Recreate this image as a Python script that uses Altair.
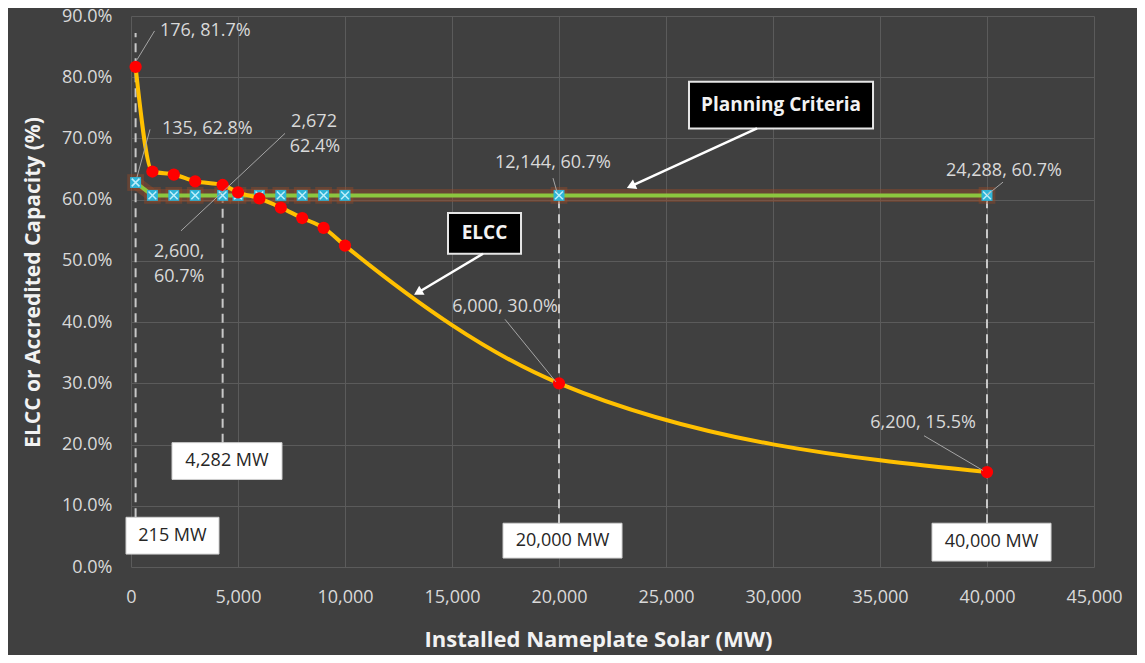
import math
import altair as alt
import pandas as pd

# ---------------- data ----------------
mw = [215, 1000, 2000, 3000, 4282, 5000, 6000, 7000, 8000, 9000, 10000, 20000, 40000]
elcc = [0.817, 0.646, 0.641, 0.630, 0.624, 0.612, 0.602, 0.587, 0.570, 0.554, 0.525, 0.300, 0.155]
planning = [0.628, 0.607, 0.607, 0.607, 0.607, 0.607, 0.607, 0.607, 0.607, 0.607, 0.607, 0.607, 0.607]

x_ticks = [0, 5000, 10000, 15000, 20000, 25000, 30000, 35000, 40000, 45000]
y_ticks = [0.0, 0.1, 0.2, 0.3, 0.4, 0.5, 0.6, 0.7, 0.8, 0.9]

# data-label annotations (text, x, y)
lab_left_text = ["176, 81.7%", "135, 62.8%", "2,600,", "60.7%"]
lab_left_x = [1355, 1449, 1075, 1075]
lab_left_y = [0.8756, 0.7148, 0.515, 0.4744]

lab_ctr_text = ["2,672", "62.4%", "12,144, 60.7%", "24,288, 60.7%", "6,000, 30.0%", "6,200, 15.5%"]
lab_ctr_x = [8552, 8598, 19720, 40795, 17477, 37010]
lab_ctr_y = [0.7262, 0.6855, 0.6596, 0.6466, 0.424, 0.2356]

# leader lines (x1, y1) -> (x2, y2)
lead_x1 = [280, 280, 2337, 19720, 40749, 17477, 37057]
lead_y1 = [0.8285, 0.6368, 0.5491, 0.6352, 0.6287, 0.4045, 0.2144]
lead_x2 = [1100, 888, 7197, 19907, 40001, 19860, 39814]
lead_y2 = [0.8756, 0.7148, 0.7083, 0.6124, 0.6076, 0.3022, 0.1576]

# dashed verticals
dash_x = [215, 4282, 20000, 40000]
dash_top = [0.8724, 0.624, 0.607, 0.607]
dash_bot = [0.0812, 0.2031, 0.0715, 0.0715]

# white MW boxes
mwbox_text = ["215 MW", "4,282 MW", "20,000 MW", "40,000 MW"]
mwbox_x1 = [-234, 1916, 17384, 37431]
mwbox_x2 = [4112, 7056, 22945, 42992]
mwbox_y1 = [0.0211, 0.1430, 0.0146, 0.0097]
mwbox_y2 = [0.0812, 0.2031, 0.0715, 0.0715]

# black callout boxes
cb_text = ["Planning Criteria", "ELCC"]
cb_x1 = [26075, 14813]
cb_x2 = [34674, 18225]
cb_y1 = [0.7164, 0.5117]
cb_y2 = [0.7928, 0.5783]

# arrows from callouts
arr_x1 = [29253, 16449]
arr_y1 = [0.7164, 0.5117]
arr_x2 = [23364, 13411]
arr_y2 = [0.6222, 0.4484]

# ---------------- layout ----------------
W, H = 963, 551
XMAX, YMAX = 45000, 0.9
BG = "#404040"
GRID = "#5b5b5b"
LABEL = "#d9d9d9"
FONT = "Open Sans"

xs = alt.Scale(domain=[0, XMAX], nice=False, zero=False)
ys = alt.Scale(domain=[0, YMAX], nice=False, zero=False)

x_axis = alt.Axis(values=x_ticks, format=",.0f", grid=True, gridColor=GRID, gridWidth=1,
                  domain=False, ticks=False, tickSize=0, labelPadding=21, labelFlush=False,
                  labelFontSize=18, labelColor=LABEL, labelFont=FONT,
                  title="Installed Nameplate Solar (MW)", titleFont=FONT, titleFontSize=22,
                  titleFontWeight="bold", titleColor="#f2f2f2", titlePadding=23, titleX=467)
y_axis = alt.Axis(values=y_ticks, format=".1%", grid=True, gridColor=GRID, gridWidth=1,
                  domain=False, ticks=False, tickSize=0, labelPadding=19, labelFlush=False,
                  labelFontSize=18, labelColor=LABEL, labelFont=FONT,
                  title="ELCC or Accredited Capacity (%)", titleFont=FONT, titleFontSize=21,
                  titleFontWeight="bold", titleColor="#f2f2f2", titleX=-88, titleY=266)


def X(f="x"):
    return alt.X(f"{f}:Q", scale=xs, axis=x_axis)


def Y(f="y"):
    return alt.Y(f"{f}:Q", scale=ys, axis=y_axis)


series = pd.DataFrame({"x": mw, "elcc": elcc, "plan": planning})
base = alt.Chart(series)

# dashed verticals
dash_df = pd.DataFrame({"x": dash_x, "y": dash_bot, "y2": dash_top})
dashes = alt.Chart(dash_df).mark_rule(color="#c8c8c8", strokeWidth=2, strokeDash=[9, 6]).encode(
    x=X(), y=Y(), y2="y2:Q")

# planning line with glow
plan_glow = base.mark_line(color="#a04a26", strokeWidth=13, opacity=0.4).encode(x=X(), y=Y("plan"))
plan_line = base.mark_line(color="#8cc63f", strokeWidth=4).encode(x=X(), y=Y("plan"))
plan_mk_glow = base.mark_point(shape="square", filled=True, color="#a04a26", size=280, opacity=0.4).encode(
    x=X(), y=Y("plan"))
plan_mk = base.mark_point(shape="square", filled=True, color="#2fb4d6", size=120, opacity=1).encode(
    x=X(), y=Y("plan"))
plan_mk_x = base.mark_point(shape="M-1,-1L1,1M-1,1L1,-1", filled=False, color="#bdeefa",
                            strokeWidth=1.5, size=60, opacity=1).encode(x=X(), y=Y("plan"))

# ELCC curve
elcc_line = base.mark_line(color="#ffc000", strokeWidth=4, interpolate="monotone").encode(
    x=X(), y=Y("elcc"))
elcc_pts = base.mark_point(shape="circle", filled=True, color="#ff0000", size=150, opacity=1).encode(
    x=X(), y=Y("elcc"))

# leader lines
lead_df = pd.DataFrame({"x": lead_x1, "y": lead_y1, "x2": lead_x2, "y2": lead_y2})
leaders = alt.Chart(lead_df).mark_rule(color="#a6a6a6", strokeWidth=1).encode(
    x=X(), y=Y(), x2="x2:Q", y2="y2:Q")

# data labels
ll_df = pd.DataFrame({"x": lab_left_x, "y": lab_left_y, "t": lab_left_text})
lab_left = alt.Chart(ll_df).mark_text(align="left", baseline="middle", font=FONT, fontSize=18,
                                      color=LABEL).encode(x=X(), y=Y(), text="t:N")
lc_df = pd.DataFrame({"x": lab_ctr_x, "y": lab_ctr_y, "t": lab_ctr_text})
lab_ctr = alt.Chart(lc_df).mark_text(align="center", baseline="middle", font=FONT, fontSize=18,
                                     color=LABEL).encode(x=X(), y=Y(), text="t:N")

# white MW boxes
mwb_df = pd.DataFrame({"x": mwbox_x1, "x2": mwbox_x2, "y": mwbox_y1, "y2": mwbox_y2, "t": mwbox_text})
mwb_df["xc"] = (mwb_df["x"] + mwb_df["x2"]) / 2
mwb_df["yc"] = (mwb_df["y"] + mwb_df["y2"]) / 2
mw_boxes = alt.Chart(mwb_df).mark_rect(fill="#ffffff", stroke="#d0d0d0", strokeWidth=1).encode(
    x=X(), x2="x2:Q", y=Y(), y2="y2:Q")
mw_text = alt.Chart(mwb_df).mark_text(align="center", baseline="middle", font=FONT, fontSize=18,
                                      color="#262626").encode(x=X("xc"), y=Y("yc"), text="t:N")

# black callouts
cb_df = pd.DataFrame({"x": cb_x1, "x2": cb_x2, "y": cb_y1, "y2": cb_y2, "t": cb_text})
cb_df["xc"] = (cb_df["x"] + cb_df["x2"]) / 2
cb_df["yc"] = (cb_df["y"] + cb_df["y2"]) / 2
cb_boxes = alt.Chart(cb_df).mark_rect(fill="#000000", stroke="#e6e6e6", strokeWidth=2).encode(
    x=X(), x2="x2:Q", y=Y(), y2="y2:Q")
cb_txt = alt.Chart(cb_df).mark_text(align="center", baseline="middle", font=FONT, fontSize=19,
                                    fontWeight="bold", color="#f2f2f2").encode(
    x=X("xc"), y=Y("yc"), text="t:N")

# arrows
arr_df = pd.DataFrame({"x": arr_x1, "y": arr_y1, "x2": arr_x2, "y2": arr_y2})
arrow_lines = alt.Chart(arr_df).mark_rule(color="#ffffff", strokeWidth=2.5).encode(
    x=X(), y=Y(), x2="x2:Q", y2="y2:Q")
heads = []
for i in range(len(arr_x1)):
    dx = (arr_x2[i] - arr_x1[i]) / XMAX * W
    dy = -(arr_y2[i] - arr_y1[i]) / YMAX * H
    ang = math.degrees(math.atan2(dx, -dy)) % 360
    hd = pd.DataFrame({"x": [arr_x2[i]], "y": [arr_y2[i]]})
    heads.append(alt.Chart(hd).mark_point(shape="triangle-up", filled=True, color="#ffffff",
                                          size=110, opacity=1, angle=ang).encode(x=X(), y=Y()))

chart = alt.layer(
    dashes, plan_glow, plan_mk_glow, plan_line, plan_mk, plan_mk_x,
    elcc_line, elcc_pts, leaders, lab_left, lab_ctr,
    mw_boxes, mw_text, cb_boxes, cb_txt, arrow_lines, *heads
).properties(
    width=W, height=H,
    autosize=alt.AutoSizeParams(type="none"),
    padding={"left": 123, "top": 8, "right": 43, "bottom": 88},
    background=BG,
).configure_view(strokeOpacity=0)

chart.save("out.html", embed_options={"renderer": "svg", "actions": False})
